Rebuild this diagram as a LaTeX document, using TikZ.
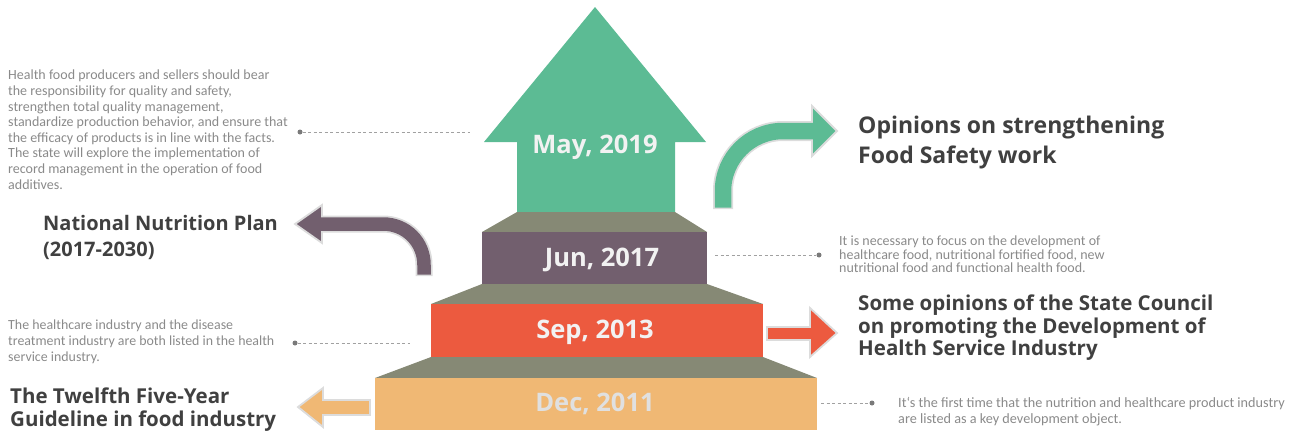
\documentclass[tikz,border=0pt]{standalone}
\usepackage{fontspec}
\setmainfont{Carlito}
\newfontfamily\titlefont{Open Sans}
\definecolor{cgreen}{HTML}{5CBB94}
\definecolor{cpurple}{HTML}{725F6E}
\definecolor{cstep}{HTML}{868975}
\definecolor{cred}{HTML}{EC5A3F}
\definecolor{corange}{HTML}{F0B874}
\definecolor{ctitle}{HTML}{404040}
\definecolor{cpara}{HTML}{8A8A8A}
\definecolor{cdot}{HTML}{7A7A7A}
\definecolor{cglow}{HTML}{DCDCDC}
\tikzset{
  stepbox/.style={inner sep=0pt, outer sep=0pt, anchor=north west},
  datelabel/.style={font=\titlefont\bfseries\fontsize{25.5}{28}\selectfont, text=white!95!black, inner sep=0pt},
  riser/.style={fill=cstep, draw=none},
  para/.style={font=\fontsize{14}{15.6}\selectfont, text=cpara, align=left, inner sep=0pt, anchor=north west},
  headline/.style={font=\titlefont\bfseries\fontsize{20}{25}\selectfont, text=ctitle, align=left, inner sep=0pt, anchor=north west},
  leader/.style={draw=cpara!80, line width=0.8pt, dash pattern=on 3pt off 2.5pt},
  enddot/.style={circle, fill=cdot, inner sep=0pt, minimum size=5pt},
  glowline/.style={draw=cglow, line width=#1},
  flatarrow/.style={fill=#1, draw=cglow, line width=1.8pt, line join=miter}
}
\begin{document}
\begin{tikzpicture}[x=1pt, y=-1pt]
\useasboundingbox (0,0) rectangle (1294,439);
% big green arrow
\fill[cgreen] (517,212) -- (517,142) -- (484,142) -- (595,7) -- (706,142) -- (675,142) -- (675,212) -- cycle;
% risers
\fill[riser] (517,212) -- (675,212) -- (707,232) -- (482,232) -- cycle;
\fill[riser] (482,284) -- (707,284) -- (763,304) -- (431,304) -- cycle;
\fill[riser] (431,357) -- (763,357) -- (817,378) -- (375,378) -- cycle;
% steps
\node[stepbox, fill=cpurple, minimum width=225pt, minimum height=52pt] (jun) at (482,232) {};
\node[stepbox, fill=cred, minimum width=332pt, minimum height=53pt] (sep) at (431,304) {};
\node[stepbox, fill=corange, minimum width=442pt, minimum height=52pt] (dec) at (375,378) {};
\node[datelabel] (lmay) at (595,147) {May, 2019};
\node[datelabel] (ljun) at (602,260) {Jun, 2017};
\node[datelabel] (lsep) at (595,332) {Sep, 2013};
\node[datelabel, text=white!88!black] (ldec) at (595,404) {Dec, 2011};

% curved green arrow
\path (723,209) coordinate (gA) (813,131) coordinate (gB);
\draw[glowline=20pt] (gA) -- (723,191) .. controls (723,158) and (750,131) .. (783,131) -- (gB);
\filldraw[flatarrow=cgreen] (812,106) -- (837,131) -- (812,156) -- cycle;
\draw[cgreen, line width=16.5pt] (723,207.5) -- (723,191) .. controls (723,158) and (750,131) .. (783,131) -- (814,131);
% curved purple arrow
\path (424,276) coordinate (pA) (322,224) coordinate (pB);
\draw[glowline=17pt] (pA) -- (424,265) .. controls (424,242) and (406,224) .. (383,224) -- (pB);
\filldraw[flatarrow=cpurple] (322,205) -- (295,224) -- (322,243) -- cycle;
\draw[cpurple, line width=13.5pt] (424,274.5) -- (424,265) .. controls (424,242) and (406,224) .. (383,224) -- (321,224);
% red arrow
\filldraw[flatarrow=cred] (767,327) -- (810,327) -- (810,308) -- (837,333) -- (810,357) -- (810,340) -- (767,340) -- cycle;
% orange arrow
\filldraw[flatarrow=corange] (370,400) -- (323,400) -- (323,388) -- (298,407) -- (323,427) -- (323,415) -- (370,415) -- cycle;

% headlines
\node[headline, font=\titlefont\bfseries\fontsize{23}{30}\selectfont] (t1) at (858,116) {Opinions on strengthening\\Food Safety work};
\node[headline, font=\titlefont\bfseries\fontsize{20}{26}\selectfont] (t2) at (43,215) {National Nutrition Plan\\(2017-2030)};
\node[headline, font=\titlefont\bfseries\fontsize{20.5}{22.5}\selectfont] (t3) at (858,295) {Some opinions of the State Council\\on promoting the Development of\\Health Service Industry};
\node[headline, font=\titlefont\bfseries\fontsize{20.5}{23}\selectfont] (t4) at (10,388) {The Twelfth Five-Year\\Guideline in food industry};

% paragraphs
\node[para] (p1) at (8,70) {Health food producers and sellers should bear\\the responsibility for quality and safety,\\strengthen total quality management,\\standardize production behavior, and ensure that\\the efficacy of products is in line with the facts.\\The state will explore the implementation of\\record management in the operation of food\\additives.};
\node[para, font=\fontsize{14}{13.2}\selectfont] (p2) at (839,236) {It is necessary to focus on the development of\\healthcare food, nutritional fortified food, new\\nutritional food and functional health food.};
\node[para, font=\fontsize{13.9}{16}\selectfont] (p3) at (8,320) {The healthcare industry and the disease\\treatment industry are both listed in the health\\service industry.};
\node[para, font=\fontsize{14.2}{16}\selectfont] (p4) at (898,397) {It`s the first time that the nutrition and healthcare product industry\\are listed as a key development object.};

% leaders
\node[enddot] (d1) at (300,132) {};
\coordinate (e1) at (470,132);
\draw[leader] (d1) -- (e1);
\node[enddot] (d2) at (819,255) {};
\coordinate (e2) at (715,255);
\draw[leader] (e2) -- (d2);
\node[enddot] (d3) at (295,343) {};
\coordinate (e3) at (410,343);
\draw[leader] (d3) -- (e3);
\node[enddot] (d4) at (872,403) {};
\coordinate (e4) at (821,403);
\draw[leader] (e4) -- (d4);
\end{tikzpicture}
\end{document}
